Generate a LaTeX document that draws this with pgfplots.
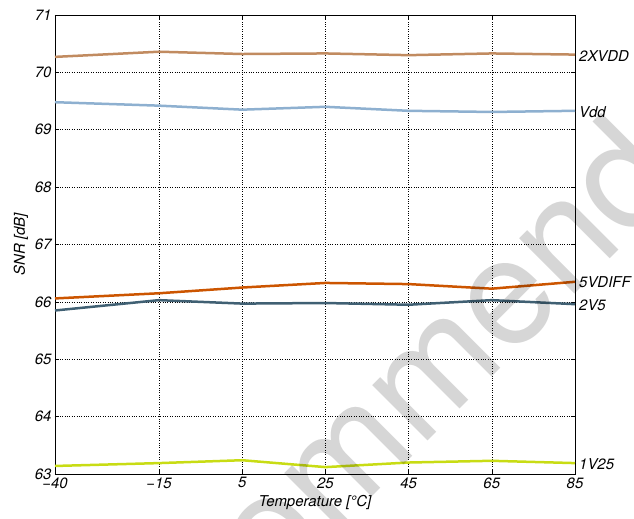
\documentclass[border=0pt]{standalone}
\usepackage{fontspec}
\setmainfont{TeX Gyre Heros}
\usepackage{pgfplots}
\pgfplotsset{compat=1.18}
\definecolor{cA}{HTML}{C18B60}
\definecolor{cB}{HTML}{8EB0D0}
\definecolor{cC}{HTML}{CC5500}
\definecolor{cD}{HTML}{406073}
\definecolor{cE}{HTML}{C8DC14}
\newcommand{\lf}{\fontsize{15}{18}\selectfont\itshape}
\begin{document}
\begin{tikzpicture}
\begin{axis}[
  scale only axis, width=520bp, height=459bp,
  xmin=-40, xmax=85, ymin=63, ymax=71,
  xtick={-40,-15,5,25,45,65,85},
  xticklabels={−40,−15,5,25,45,65,85},
  ytick={63,64,65,66,67,68,69,70,71},
  grid=major, major grid style={black, dotted, line width=0.6pt},
  axis line style={black, line width=0.8pt},
  tick style={black, line width=0.6pt}, tick align=inside, major tick length=4bp,
  ticklabel style={font=\lf},
  /pgf/number format/assume math mode=true,
  xlabel={Temperature [°C]}, ylabel={SNR [dB]},
  label style={font=\lf},
  clip mode=individual,
  every axis plot/.append style={line width=2.5bp, no markers},
]
\addplot[cA] coordinates {(-40,70.27) (-15,70.36) (5,70.32) (25,70.33) (45,70.30) (65,70.33) (85,70.31)};
\addplot[cB] coordinates {(-40,69.48) (-15,69.42) (5,69.35) (25,69.40) (45,69.33) (65,69.31) (85,69.33)};
\addplot[cC] coordinates {(-40,66.06) (-15,66.15) (5,66.25) (25,66.33) (45,66.31) (65,66.23) (85,66.35)};
\addplot[cD] coordinates {(-40,65.85) (-15,66.03) (5,65.97) (25,65.98) (45,65.95) (65,66.03) (85,65.96)};
\addplot[cE] coordinates {(-40,63.14) (-15,63.19) (5,63.24) (25,63.12) (45,63.20) (65,63.23) (85,63.19)};
\node[anchor=west, font=\lf, inner sep=1bp, xshift=3bp] at (axis cs:85,70.29) {2XVDD};
\node[anchor=west, font=\lf, inner sep=1bp, xshift=3bp] at (axis cs:85,69.31) {Vdd};
\node[anchor=west, font=\lf, inner sep=1bp, xshift=3bp] at (axis cs:85,66.35) {5VDIFF};
\node[anchor=west, font=\lf, inner sep=1bp, xshift=3bp] at (axis cs:85,65.95) {2V5};
\node[anchor=west, font=\lf, inner sep=1bp, xshift=3bp] at (axis cs:85,63.17) {1V25};
\end{axis}
\node[anchor=base west, rotate=45, text=black, text opacity=0.16, inner sep=0pt,
      font=\fontsize{150}{152}\selectfont]
  at ([shift={(32bp,-308bp)}]current axis.south west) {Recommended};
\pgfresetboundingbox
\path[use as bounding box] ([shift={(-55bp,-45bp)}]current axis.south west) rectangle ([shift={(59bp,15bp)}]current axis.north east);
\end{tikzpicture}
\end{document}
